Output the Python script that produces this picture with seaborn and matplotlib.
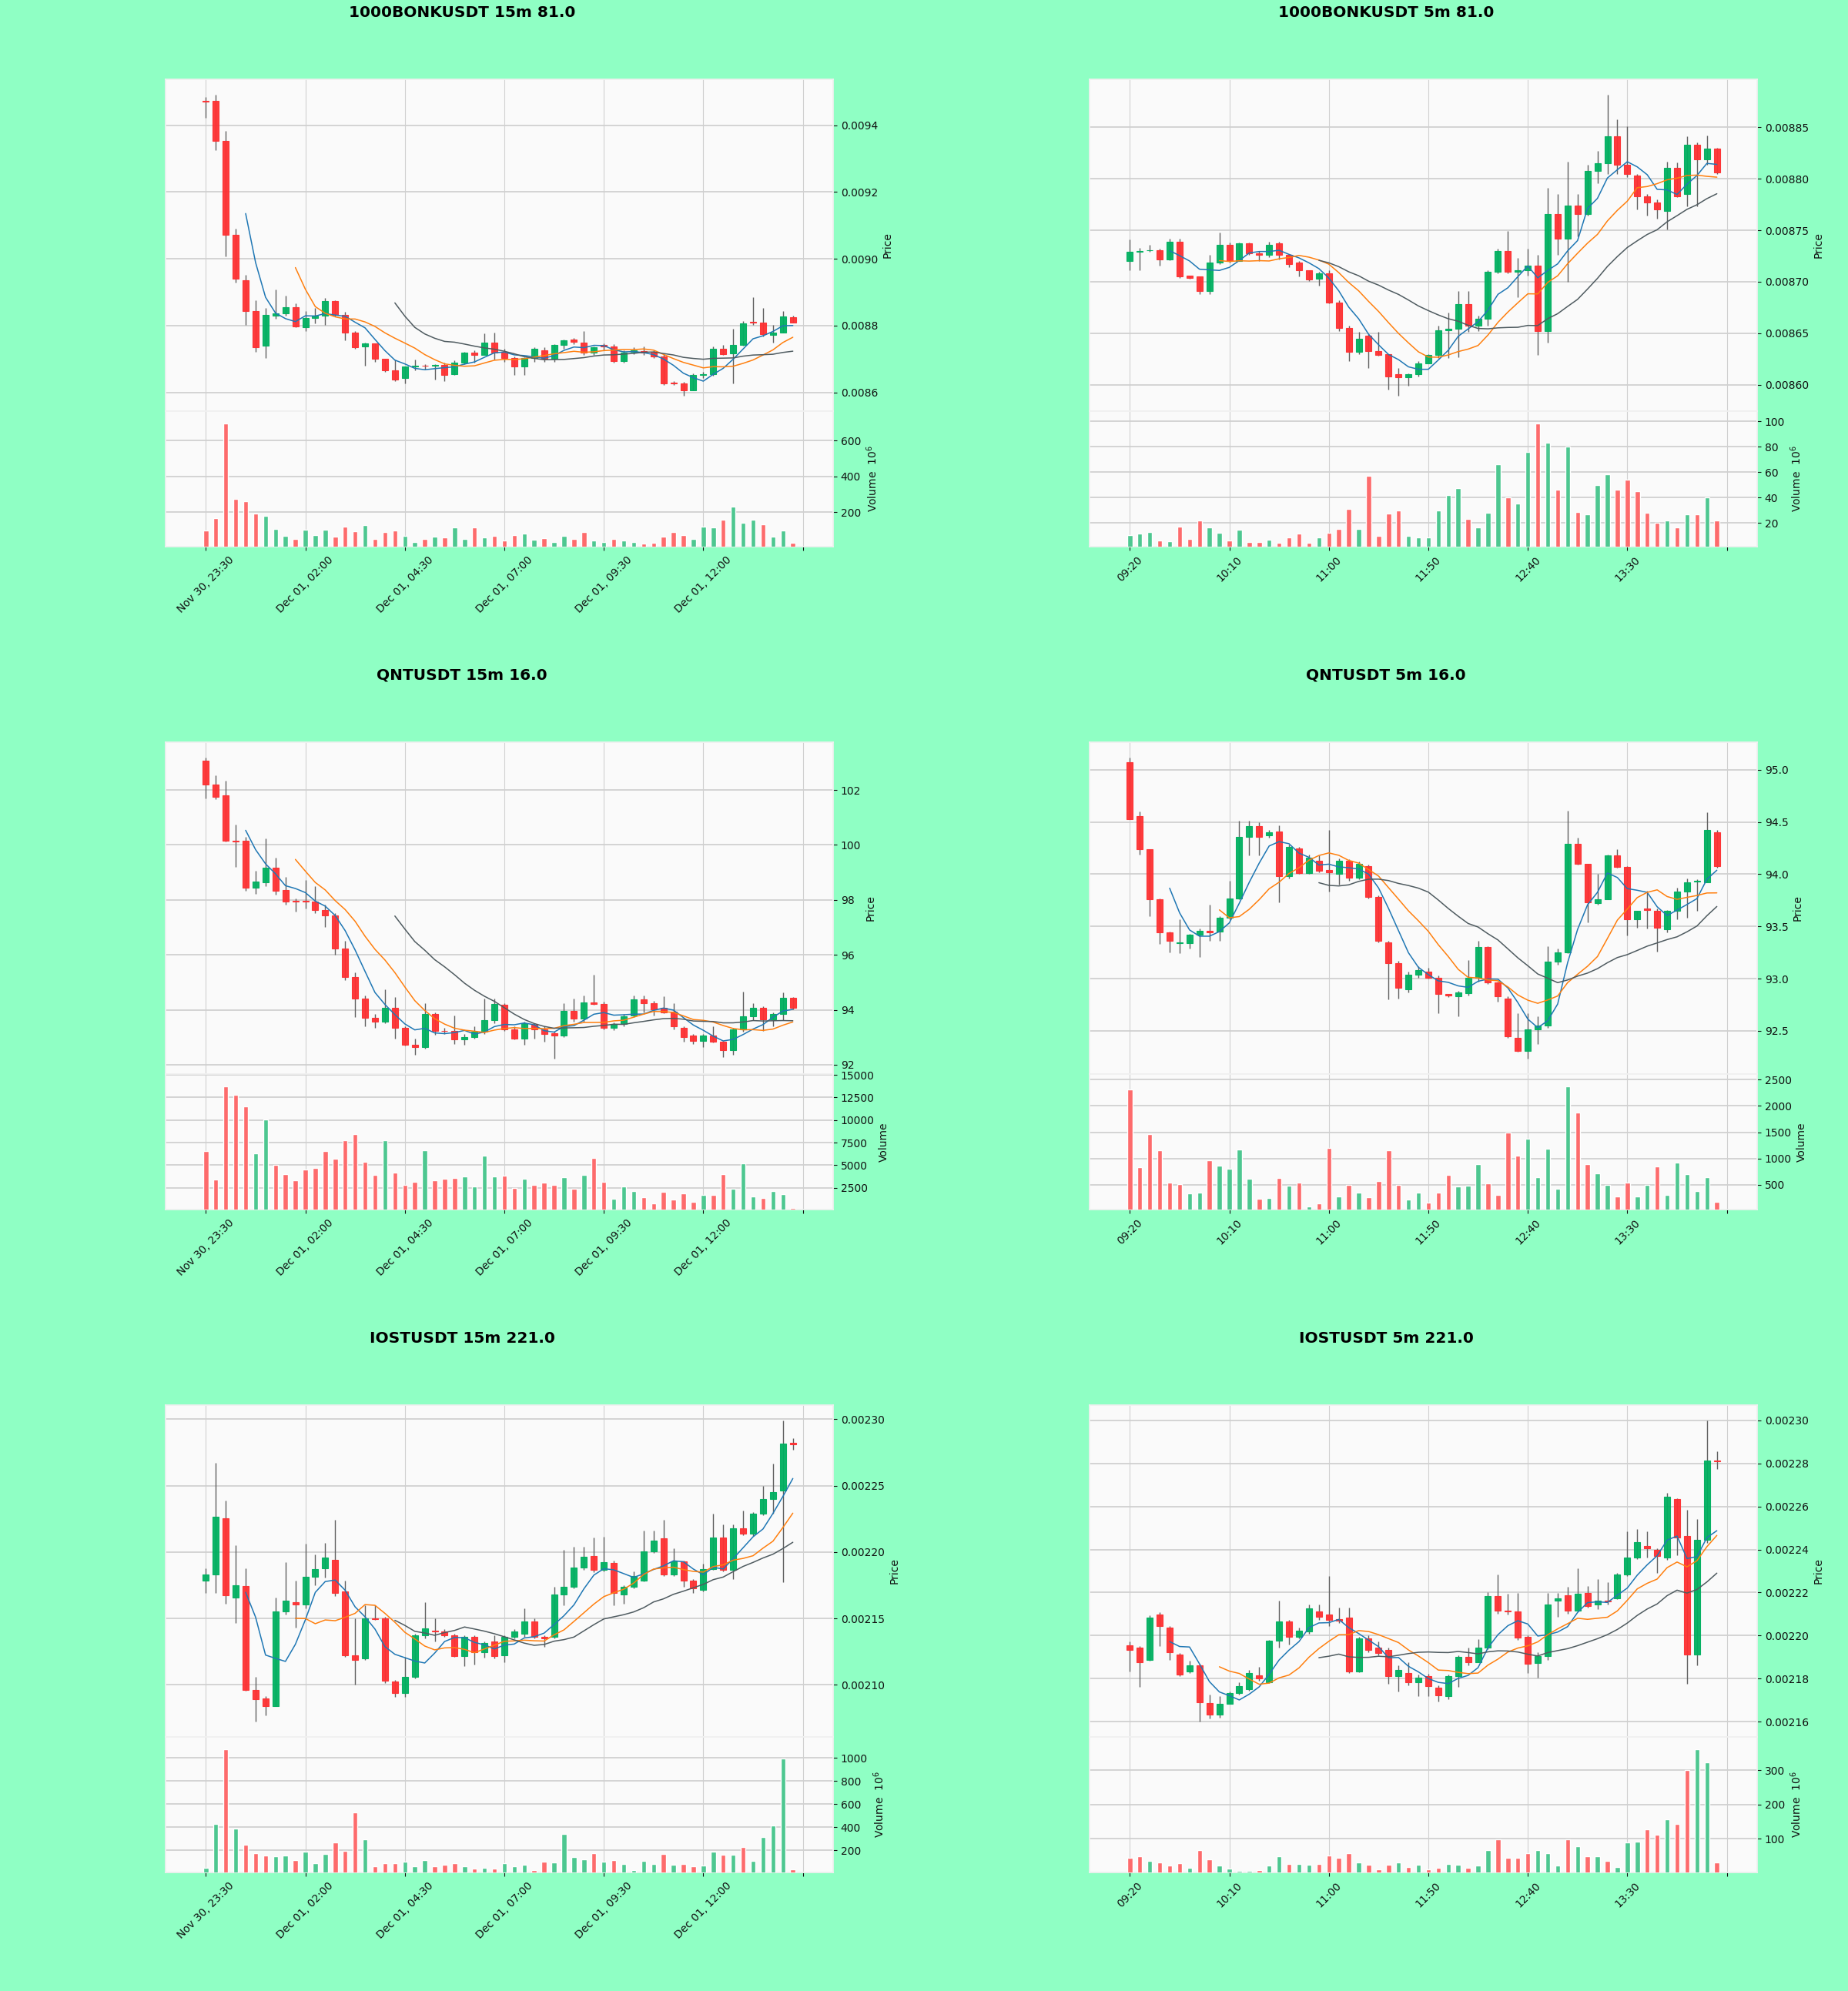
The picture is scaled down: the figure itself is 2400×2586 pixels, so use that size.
import numpy as np
import pandas as pd
import matplotlib
matplotlib.use("Agg")
import matplotlib.pyplot as plt
from matplotlib.ticker import MaxNLocator
import seaborn as sns

sns.set_theme(style="white")
plt.rcParams['font.family'] = ['DejaVu Sans']

# ---------------- data ----------------
labels_15m = ['Nov 30, 23:30', 'Dec 01, 02:00', 'Dec 01, 04:30',
              'Dec 01, 07:00', 'Dec 01, 09:30', 'Dec 01, 12:00']
labels_5m = ['09:20', '10:10', '11:00', '11:50', '12:40', '13:30']

# 1000BONKUSDT 15m
bonk15_open = [0.009473, 0.009473, 0.009352, 0.009072, 0.008936, 0.008843, 0.008739, 0.008830, 0.008836, 0.008856,
               0.008795, 0.008823, 0.008830, 0.008873, 0.008833, 0.008780, 0.008738, 0.008746, 0.008700, 0.008665,
               0.008643, 0.008677, 0.008680, 0.008679, 0.008682, 0.008655, 0.008690, 0.008720, 0.008713, 0.008750,
               0.008720, 0.008702, 0.008677, 0.008702, 0.008727, 0.008700, 0.008742, 0.008758, 0.008748, 0.008720,
               0.008742, 0.008738, 0.008693, 0.008722, 0.008724, 0.008720, 0.008707, 0.008630, 0.008626, 0.008607,
               0.008653, 0.008655, 0.008730, 0.008717, 0.008743, 0.008812, 0.008810, 0.008773, 0.008780, 0.008825]
bonk15_high = [0.009485, 0.009492, 0.009382, 0.009089, 0.008951, 0.008875, 0.008852, 0.008907, 0.008889, 0.008867,
               0.008844, 0.008852, 0.008882, 0.008876, 0.008840, 0.008783, 0.008749, 0.008747, 0.008701, 0.008699,
               0.008678, 0.008699, 0.008684, 0.008684, 0.008688, 0.008695, 0.008722, 0.008726, 0.008776, 0.008779,
               0.008730, 0.008707, 0.008705, 0.008734, 0.008734, 0.008745, 0.008758, 0.008762, 0.008783, 0.008738,
               0.008746, 0.008744, 0.008726, 0.008734, 0.008737, 0.008726, 0.008715, 0.008634, 0.008631, 0.008657,
               0.008661, 0.008737, 0.008741, 0.008791, 0.008814, 0.008886, 0.008852, 0.008802, 0.008844, 0.008830]
bonk15_low = [0.009421, 0.009325, 0.009008, 0.008928, 0.008802, 0.008722, 0.008703, 0.008821, 0.008829, 0.008795,
              0.008783, 0.008806, 0.008802, 0.008827, 0.008756, 0.008730, 0.008680, 0.008692, 0.008661, 0.008634,
              0.008627, 0.008665, 0.008669, 0.008638, 0.008634, 0.008652, 0.008685, 0.008688, 0.008711, 0.008699,
              0.008692, 0.008653, 0.008653, 0.008692, 0.008692, 0.008692, 0.008730, 0.008745, 0.008711, 0.008711,
              0.008726, 0.008688, 0.008688, 0.008715, 0.008711, 0.008703, 0.008623, 0.008623, 0.008589, 0.008606,
              0.008644, 0.008650, 0.008711, 0.008627, 0.008739, 0.008802, 0.008768, 0.008749, 0.008779, 0.008808]
bonk15_close = [0.009470, 0.009352, 0.009072, 0.008940, 0.008843, 0.008736, 0.008833, 0.008836, 0.008856, 0.008798,
                0.008823, 0.008830, 0.008873, 0.008833, 0.008780, 0.008734, 0.008746, 0.008700, 0.008665, 0.008638,
                0.008677, 0.008680, 0.008679, 0.008681, 0.008653, 0.008690, 0.008720, 0.008712, 0.008750, 0.008720,
                0.008702, 0.008677, 0.008702, 0.008730, 0.008700, 0.008742, 0.008755, 0.008752, 0.008720, 0.008735,
                0.008738, 0.008693, 0.008720, 0.008725, 0.008720, 0.008707, 0.008627, 0.008626, 0.008607, 0.008653,
                0.008655, 0.008730, 0.008715, 0.008743, 0.008806, 0.008808, 0.008775, 0.008780, 0.008828, 0.008810]
bonk15_volume = [98, 168, 695, 276, 263, 191, 178, 105, 66, 52,
                 101, 72, 104, 63, 119, 92, 126, 50, 87, 98,
                 69, 33, 52, 62, 59, 116, 50, 116, 59, 66,
                 40, 72, 81, 46, 53, 33, 66, 52, 87, 40,
                 31, 52, 40, 31, 24, 28, 62, 88, 72, 52,
                 119, 116, 156, 232, 142, 159, 133, 63, 98, 28]

# 1000BONKUSDT 5m
bonk5_open = [0.008720, 0.008729, 0.008731, 0.008731, 0.008722, 0.008739, 0.008706, 0.008705, 0.008691, 0.008719,
              0.008736, 0.008720, 0.008737, 0.008728, 0.008726, 0.008737, 0.008726, 0.008719, 0.008711, 0.008703,
              0.008708, 0.008680, 0.008655, 0.008632, 0.008648, 0.008633, 0.008630, 0.008610, 0.008607, 0.008610,
              0.008621, 0.008629, 0.008653, 0.008654, 0.008678, 0.008657, 0.008664, 0.008710, 0.008730, 0.008710,
              0.008711, 0.008716, 0.008652, 0.008766, 0.008742, 0.008774, 0.008766, 0.008808, 0.008815, 0.008841,
              0.008814, 0.008803, 0.008783, 0.008777, 0.008769, 0.008811, 0.008785, 0.008833, 0.008819, 0.008829]
bonk5_high = [0.008741, 0.008733, 0.008736, 0.008732, 0.008742, 0.008742, 0.008706, 0.008705, 0.008726, 0.008748,
              0.008738, 0.008738, 0.008738, 0.008730, 0.008739, 0.008739, 0.008727, 0.008720, 0.008711, 0.008710,
              0.008711, 0.008682, 0.008657, 0.008651, 0.008649, 0.008651, 0.008630, 0.008616, 0.008611, 0.008623,
              0.008630, 0.008657, 0.008670, 0.008691, 0.008691, 0.008667, 0.008711, 0.008732, 0.008749, 0.008723,
              0.008732, 0.008726, 0.008791, 0.008785, 0.008817, 0.008785, 0.008814, 0.008827, 0.008882, 0.008858,
              0.008851, 0.008805, 0.008785, 0.008780, 0.008817, 0.008816, 0.008841, 0.008835, 0.008842, 0.008830]
bonk5_low = [0.008711, 0.008711, 0.008729, 0.008716, 0.008721, 0.008704, 0.008703, 0.008688, 0.008688, 0.008717,
             0.008719, 0.008721, 0.008726, 0.008720, 0.008724, 0.008722, 0.008714, 0.008705, 0.008701, 0.008696,
             0.008679, 0.008652, 0.008623, 0.008630, 0.008616, 0.008628, 0.008595, 0.008589, 0.008599, 0.008608,
             0.008621, 0.008626, 0.008626, 0.008627, 0.008651, 0.008652, 0.008657, 0.008708, 0.008708, 0.008685,
             0.008706, 0.008629, 0.008641, 0.008726, 0.008700, 0.008744, 0.008764, 0.008796, 0.008805, 0.008805,
             0.008802, 0.008770, 0.008764, 0.008761, 0.008751, 0.008782, 0.008773, 0.008773, 0.008814, 0.008805]
bonk5_close = [0.008729, 0.008730, 0.008731, 0.008722, 0.008739, 0.008705, 0.008704, 0.008691, 0.008719, 0.008736,
               0.008720, 0.008737, 0.008728, 0.008726, 0.008736, 0.008726, 0.008717, 0.008711, 0.008702, 0.008708,
               0.008680, 0.008655, 0.008632, 0.008645, 0.008633, 0.008629, 0.008608, 0.008607, 0.008610, 0.008621,
               0.008629, 0.008653, 0.008654, 0.008678, 0.008657, 0.008664, 0.008710, 0.008730, 0.008710, 0.008711,
               0.008716, 0.008652, 0.008766, 0.008742, 0.008774, 0.008766, 0.008808, 0.008815, 0.008841, 0.008814,
               0.008805, 0.008783, 0.008777, 0.008770, 0.008811, 0.008783, 0.008833, 0.008819, 0.008829, 0.008806]
bonk5_volume = [10.4, 11.7, 12.9, 6.0, 5.5, 17.0, 7.5, 22.0, 16.6, 12.4,
                6.3, 14.6, 5.0, 5.0, 6.7, 4.3, 8.5, 11.7, 4.5, 8.5,
                12.0, 15.3, 31.3, 15.3, 57.0, 9.7, 27.6, 29.6, 9.7, 8.7,
                8.7, 30.0, 42.0, 47.7, 23.4, 16.6, 28.3, 66.0, 40.3, 35.0,
                76.0, 98.3, 83.3, 46.5, 80.4, 28.8, 27.0, 49.7, 58.3, 46.0,
                53.9, 44.8, 28.3, 20.2, 22.0, 16.6, 26.9, 26.9, 40.0, 22.2]

# QNTUSDT 15m
qnt15_open = [103.08, 102.19, 101.81, 100.15, 100.15, 98.45, 98.65, 99.17, 98.36, 97.98,
              97.97, 97.93, 97.62, 97.42, 96.24, 95.20, 94.41, 93.72, 93.57, 94.07,
              93.35, 92.72, 92.63, 93.85, 93.24, 93.22, 92.91, 93.02, 93.19, 93.61,
              94.19, 93.30, 92.96, 93.46, 93.28, 93.15, 93.05, 93.96, 93.69, 94.27,
              94.22, 93.35, 93.49, 93.80, 94.38, 94.24, 94.07, 93.94, 93.35, 93.05,
              92.87, 93.07, 92.84, 92.52, 93.30, 93.76, 94.07, 93.65, 93.86, 94.43]
qnt15_high = [103.19, 102.52, 102.33, 100.73, 100.28, 99.06, 100.23, 99.53, 98.84, 98.06,
              98.73, 98.51, 97.84, 97.51, 96.51, 95.35, 94.52, 93.85, 94.74, 94.46,
              93.41, 92.96, 94.24, 93.91, 93.35, 93.80, 93.13, 93.41, 94.41, 94.41,
              94.24, 93.41, 93.57, 93.52, 93.41, 93.21, 94.24, 94.41, 94.52, 95.29,
              94.29, 93.54, 93.85, 94.52, 94.52, 94.32, 94.49, 94.24, 93.41, 93.13,
              93.13, 93.41, 92.88, 93.35, 94.65, 94.24, 94.13, 93.91, 94.63, 94.46]
qnt15_low = [101.70, 101.67, 100.12, 99.21, 98.34, 98.23, 98.51, 98.18, 97.84, 97.57,
             97.68, 97.51, 97.01, 96.01, 95.07, 93.74, 93.39, 93.35, 93.52, 92.96,
             92.69, 92.35, 92.58, 93.08, 93.13, 92.74, 92.72, 92.96, 93.13, 93.52,
             93.24, 92.91, 92.72, 92.96, 92.83, 92.21, 93.02, 93.57, 93.57, 94.18,
             93.30, 93.27, 93.41, 93.74, 93.91, 93.80, 93.87, 93.30, 92.83, 92.74,
             92.63, 92.80, 92.27, 92.35, 93.19, 93.61, 93.24, 93.41, 93.63, 94.02]
qnt15_close = [102.19, 101.75, 100.15, 100.12, 98.45, 98.67, 99.17, 98.34, 97.95, 97.94,
               97.93, 97.62, 97.42, 96.24, 95.20, 94.41, 93.72, 93.57, 94.07, 93.35,
               92.72, 92.63, 93.85, 93.24, 93.22, 92.91, 93.02, 93.19, 93.61, 94.21,
               93.30, 92.96, 93.52, 93.28, 93.13, 93.05, 93.96, 93.69, 94.27, 94.22,
               93.35, 93.49, 93.76, 94.38, 94.24, 94.02, 93.91, 93.39, 93.02, 92.88,
               93.07, 92.84, 92.52, 93.30, 93.76, 94.07, 93.65, 93.86, 94.43, 94.07]
qnt15_volume = [6560, 3400, 13730, 12770, 11490, 6320, 10080, 5050, 3980, 3290,
                4500, 4670, 6560, 5700, 7770, 8460, 5360, 3880, 7770, 4150,
                2850, 3190, 6670, 3290, 3530, 3570, 3710, 2670, 6050, 3710,
                3840, 2500, 3500, 2850, 3050, 2850, 3640, 2360, 3910, 5770,
                3190, 1300, 2670, 2120, 1430, 780, 2020, 1230, 1910, 950,
                1740, 1740, 3980, 2360, 5190, 1570, 1330, 2160, 1810, 260]

# QNTUSDT 5m
qnt5_open = [95.07, 94.56, 94.24, 93.76, 93.44, 93.34, 93.34, 93.42, 93.46, 93.45,
             93.58, 93.77, 94.36, 94.46, 94.37, 94.41, 93.98, 94.25, 94.01, 94.13,
             94.04, 94.00, 94.13, 93.97, 94.08, 93.78, 93.35, 93.15, 92.90, 93.04,
             93.07, 93.01, 92.85, 92.83, 92.86, 93.01, 93.30, 92.96, 92.81, 92.43,
             92.31, 92.51, 92.55, 93.16, 93.25, 94.29, 94.10, 93.72, 93.76, 94.18,
             94.07, 93.57, 93.67, 93.65, 93.47, 93.65, 93.83, 93.93, 93.92, 94.40]
qnt5_high = [95.12, 94.60, 94.24, 93.77, 93.45, 93.57, 93.43, 93.48, 93.71, 93.60,
             93.94, 94.51, 94.51, 94.50, 94.42, 94.47, 94.28, 94.26, 94.19, 94.18,
             94.42, 94.15, 94.14, 94.12, 94.09, 93.80, 93.36, 93.17, 93.07, 93.12,
             93.10, 93.03, 92.85, 92.88, 93.18, 93.36, 93.31, 92.97, 92.83, 92.67,
             92.67, 92.64, 93.31, 93.29, 94.61, 94.35, 94.10, 94.00, 94.19, 94.24,
             94.08, 93.65, 93.84, 93.67, 93.66, 93.87, 93.96, 93.95, 94.59, 94.42]
qnt5_low = [94.53, 94.19, 93.60, 93.33, 93.25, 93.24, 93.29, 93.21, 93.36, 93.36,
            93.57, 93.76, 94.18, 94.18, 94.35, 93.73, 93.96, 94.00, 94.00, 94.02,
            93.83, 93.90, 93.94, 93.95, 93.77, 93.35, 92.80, 92.81, 92.87, 93.01,
            93.00, 92.67, 92.82, 92.64, 92.84, 92.97, 92.95, 92.78, 92.43, 92.30,
            92.23, 92.37, 92.53, 93.13, 93.24, 94.09, 93.54, 93.71, 93.76, 94.06,
            93.41, 93.49, 93.48, 93.26, 93.44, 93.57, 93.58, 93.65, 93.92, 94.06]
qnt5_close = [94.53, 94.24, 93.76, 93.44, 93.36, 93.35, 93.42, 93.46, 93.44, 93.58,
              93.77, 94.36, 94.46, 94.36, 94.40, 93.98, 94.26, 94.01, 94.16, 94.03,
              94.02, 94.13, 93.97, 94.10, 93.78, 93.36, 93.15, 92.91, 93.04, 93.08,
              93.01, 92.85, 92.84, 92.87, 93.01, 93.30, 92.96, 92.83, 92.45, 92.31,
              92.51, 92.55, 93.16, 93.25, 94.29, 94.10, 93.73, 93.76, 94.18, 94.07,
              93.57, 93.65, 93.66, 93.49, 93.65, 93.83, 93.92, 93.94, 94.42, 94.08]
qnt5_volume = [2320, 830, 1460, 1150, 540, 510, 330, 345, 970, 860,
               800, 1170, 610, 230, 240, 625, 475, 535, 90, 140,
               1200, 280, 495, 355, 255, 575, 1160, 495, 220, 345,
               160, 355, 685, 460, 475, 895, 525, 300, 1500, 1060,
               1380, 645, 1180, 430, 2370, 1875, 895, 715, 495, 270,
               535, 270, 495, 850, 300, 925, 700, 385, 645, 180]

# IOSTUSDT 15m
iost15_open = [0.0021786, 0.0021832, 0.0022253, 0.0021660, 0.0021745, 0.0020963, 0.0020901, 0.0020839, 0.0021552, 0.0021621,
               0.0021607, 0.0021814, 0.0021878, 0.0021943, 0.0021706, 0.0021223, 0.0021200, 0.0021499, 0.0021499, 0.0021028,
               0.0020938, 0.0021062, 0.0021372, 0.0021408, 0.0021400, 0.0021372, 0.0021216, 0.0021361, 0.0021246, 0.0021326,
               0.0021223, 0.0021361, 0.0021384, 0.0021476, 0.0021361, 0.0021361, 0.0021683, 0.0021736, 0.0021883, 0.0021970,
               0.0021867, 0.0021917, 0.0021683, 0.0021740, 0.0021786, 0.0022005, 0.0022103, 0.0021832, 0.0021929, 0.0021786,
               0.0021717, 0.0021874, 0.0022108, 0.0021867, 0.0022177, 0.0022136, 0.0022287, 0.0022402, 0.0022464, 0.0022820]
iost15_high = [0.0021878, 0.0022671, 0.0022388, 0.0022051, 0.0021878, 0.0021062, 0.0020913, 0.0021660, 0.0021924, 0.0021786,
               0.0022062, 0.0021982, 0.0022067, 0.0022241, 0.0021786, 0.0021499, 0.0021602, 0.0021602, 0.0021510, 0.0021039,
               0.0021211, 0.0021384, 0.0021625, 0.0021499, 0.0021418, 0.0021384, 0.0021372, 0.0021372, 0.0021326, 0.0021372,
               0.0021372, 0.0021418, 0.0021579, 0.0021499, 0.0021372, 0.0021740, 0.0022016, 0.0022039, 0.0022039, 0.0022108,
               0.0022113, 0.0021936, 0.0021752, 0.0021855, 0.0022159, 0.0022159, 0.0022241, 0.0022028, 0.0021936, 0.0021798,
               0.0021913, 0.0022287, 0.0022211, 0.0022211, 0.0022315, 0.0022303, 0.0022499, 0.0022664, 0.0022993, 0.0022855]
iost15_low = [0.0021694, 0.0021694, 0.0021614, 0.0021469, 0.0020954, 0.0020722, 0.0020770, 0.0020839, 0.0021529, 0.0021430,
              0.0021579, 0.0021752, 0.0021809, 0.0021667, 0.0021211, 0.0021000, 0.0021188, 0.0021487, 0.0021016, 0.0020908,
              0.0020908, 0.0021050, 0.0021349, 0.0021326, 0.0021361, 0.0021211, 0.0021142, 0.0021154, 0.0021207, 0.0021200,
              0.0021170, 0.0021349, 0.0021361, 0.0021349, 0.0021285, 0.0021349, 0.0021602, 0.0021729, 0.0021867, 0.0021851,
              0.0021855, 0.0021602, 0.0021614, 0.0021729, 0.0021782, 0.0021993, 0.0021821, 0.0021821, 0.0021740, 0.0021694,
              0.0021706, 0.0021867, 0.0021855, 0.0021798, 0.0022126, 0.0022120, 0.0022280, 0.0022292, 0.0021775, 0.0022770]
iost15_close = [0.0021832, 0.0022264, 0.0021676, 0.0021752, 0.0020963, 0.0020894, 0.0020839, 0.0021552, 0.0021637, 0.0021607,
                0.0021814, 0.0021874, 0.0021959, 0.0021694, 0.0021223, 0.0021189, 0.0021499, 0.0021497, 0.0021032, 0.0020936,
                0.0021062, 0.0021372, 0.0021423, 0.0021405, 0.0021372, 0.0021216, 0.0021361, 0.0021246, 0.0021315, 0.0021216,
                0.0021361, 0.0021400, 0.0021476, 0.0021361, 0.0021351, 0.0021683, 0.0021736, 0.0021883, 0.0021965, 0.0021867,
                0.0021924, 0.0021694, 0.0021740, 0.0021821, 0.0022005, 0.0022085, 0.0021832, 0.0021929, 0.0021786, 0.0021729,
                0.0021874, 0.0022108, 0.0021867, 0.0022177, 0.0022136, 0.0022287, 0.0022402, 0.0022453, 0.0022816, 0.0022812]
iost15_volume = [45, 427, 1075, 387, 245, 173, 152, 146, 152, 112,
                 187, 85, 165, 267, 192, 526, 294, 58, 90, 85,
                 98, 63, 117, 58, 72, 85, 58, 39, 45, 39,
                 85, 58, 72, 31, 98, 93, 339, 138, 120, 173,
                 98, 112, 79, 26, 106, 79, 165, 72, 79, 58,
                 66, 187, 160, 160, 227, 106, 312, 414, 994, 34]

# IOSTUSDT 5m
iost5_open = [0.0021955, 0.0021945, 0.0021886, 0.0022098, 0.0022037, 0.0021914, 0.0021833, 0.0021864, 0.0021689, 0.0021632,
              0.0021685, 0.0021734, 0.0021751, 0.0021816, 0.0021783, 0.0021977, 0.0022065, 0.0021995, 0.0022019, 0.0022112,
              0.0022098, 0.0022076, 0.0022084, 0.0021835, 0.0021988, 0.0021945, 0.0021934, 0.0021812, 0.0021826, 0.0021783,
              0.0021812, 0.0021760, 0.0021718, 0.0021812, 0.0021903, 0.0021875, 0.0021945, 0.0022185, 0.0022115, 0.0022112,
              0.0021995, 0.0021872, 0.0021906, 0.0022164, 0.0022188, 0.0022115, 0.0022199, 0.0022146, 0.0022164, 0.0022174,
              0.0022284, 0.0022361, 0.0022415, 0.0022400, 0.0022361, 0.0022633, 0.0022464, 0.0021914, 0.0022446, 0.0022812]
iost5_high = [0.0021974, 0.0021953, 0.0022094, 0.0022108, 0.0022044, 0.0021920, 0.0021882, 0.0021868, 0.0021727, 0.0021720,
              0.0021741, 0.0021783, 0.0021840, 0.0021854, 0.0021981, 0.0022164, 0.0022072, 0.0022037, 0.0022143, 0.0022143,
              0.0022277, 0.0022129, 0.0022129, 0.0021995, 0.0022002, 0.0021974, 0.0021945, 0.0021861, 0.0021875, 0.0021819,
              0.0021822, 0.0021769, 0.0021819, 0.0021910, 0.0021943, 0.0021985, 0.0022202, 0.0022284, 0.0022196, 0.0022199,
              0.0022002, 0.0021924, 0.0022199, 0.0022199, 0.0022227, 0.0022312, 0.0022230, 0.0022263, 0.0022249, 0.0022291,
              0.0022484, 0.0022495, 0.0022484, 0.0022404, 0.0022662, 0.0022639, 0.0022583, 0.0022541, 0.0023000, 0.0022855]
iost5_low = [0.0021833, 0.0021762, 0.0021882, 0.0021953, 0.0021889, 0.0021812, 0.0021826, 0.0021600, 0.0021614, 0.0021621,
             0.0021685, 0.0021727, 0.0021745, 0.0021790, 0.0021779, 0.0021945, 0.0021960, 0.0021988, 0.0022009, 0.0022072,
             0.0022044, 0.0022058, 0.0021826, 0.0021830, 0.0021924, 0.0021910, 0.0021776, 0.0021741, 0.0021769, 0.0021720,
             0.0021720, 0.0021695, 0.0021706, 0.0021762, 0.0021861, 0.0021889, 0.0021938, 0.0022103, 0.0022098, 0.0021981,
             0.0021826, 0.0021804, 0.0021889, 0.0022086, 0.0022100, 0.0022115, 0.0022129, 0.0022122, 0.0022143, 0.0022171,
             0.0022277, 0.0022354, 0.0022361, 0.0022291, 0.0022352, 0.0022375, 0.0021776, 0.0021864, 0.0022432, 0.0022774]
iost5_close = [0.0021935, 0.0021875, 0.0022084, 0.0022044, 0.0021924, 0.0021821, 0.0021864, 0.0021692, 0.0021632, 0.0021685,
               0.0021734, 0.0021765, 0.0021826, 0.0021802, 0.0021977, 0.0022065, 0.0021995, 0.0022023, 0.0022126, 0.0022086,
               0.0022072, 0.0022070, 0.0021833, 0.0021988, 0.0021934, 0.0021920, 0.0021812, 0.0021840, 0.0021783, 0.0021805,
               0.0021765, 0.0021723, 0.0021812, 0.0021903, 0.0021875, 0.0021945, 0.0022185, 0.0022115, 0.0022112, 0.0021990,
               0.0021868, 0.0021906, 0.0022146, 0.0022174, 0.0022115, 0.0022196, 0.0022136, 0.0022164, 0.0022160, 0.0022284,
               0.0022361, 0.0022435, 0.0022404, 0.0022371, 0.0022646, 0.0022456, 0.0021914, 0.0022446, 0.0022812, 0.0022808]
iost5_volume = [45, 50, 36, 32, 21, 29, 15, 66, 41, 21,
                14, 7, 6, 9, 23, 50, 27, 27, 25, 27,
                52, 45, 59, 32, 25, 11, 25, 30, 18, 25,
                11, 15, 27, 25, 15, 23, 68, 98, 45, 44,
                57, 68, 57, 23, 98, 79, 50, 50, 35, 18,
                89, 91, 127, 112, 156, 143, 300, 361, 323, 30]

titles = ['1000BONKUSDT 15m 81.0', '1000BONKUSDT 5m 81.0',
          'QNTUSDT 15m 16.0', 'QNTUSDT 5m 16.0',
          'IOSTUSDT 15m 221.0', 'IOSTUSDT 5m 221.0']
mav_periods = [5, 10, 20]

# ---------------- style (mplfinance "yahoo"-like) ----------------
BG = '#8fffc4'
FACE = '#fafafa'
GRID = '#d0d0d0'
UP, DOWN = '#00b060', '#fe3032'
VUP, VDOWN = '#4dc790', '#fd6b6c'
WICK = '#606060'
MAV_COLORS = ['#1f77b4', '#ff7f0e', '#4f5b60']

W, H = 2400, 2586
col_left = [215, 1415]
row_top = [103, 964, 1825]
ax_w, price_h, vol_h = 867, 431, 176

fig = plt.figure(figsize=(W / 100, H / 100), dpi=100, facecolor=BG)


def style_axis(ax):
    ax.set_facecolor(FACE)
    ax.set_axisbelow(True)
    ax.grid(True, axis='y', color=GRID, lw=1.3)
    ax.grid(True, axis='x', color=GRID, lw=0.8)
    for s in ax.spines.values():
        s.set_color('#f0f0f0')
    ax.yaxis.tick_right()
    ax.yaxis.set_label_position('right')
    ax.tick_params(axis='both', which='both', length=3.5, width=0.8, color='#101010',
                   labelcolor='#101010', labelsize=10, left=False, right=True, bottom=True)


def draw_panel(pos, title, o, h, l, c, v, ticklabels, vol_label):
    o, h, l, c, v = (np.asarray(a, dtype=float) for a in (o, h, l, c, v))
    h = np.maximum(h, np.maximum(o, c))
    l = np.minimum(l, np.minimum(o, c))
    x = np.arange(len(c))
    col, row = pos
    left, top = col_left[col], row_top[row]

    ax_p = fig.add_axes([left / W, 1 - (top + price_h) / H, ax_w / W, price_h / H])
    ax_v = fig.add_axes([left / W, 1 - (top + price_h + vol_h) / H, ax_w / W, vol_h / H],
                        sharex=ax_p)
    style_axis(ax_p)
    style_axis(ax_v)

    # candles
    up = c >= o
    body_col = np.where(up, UP, DOWN)
    ax_p.vlines(x, l, h, color=WICK, lw=1.0, zorder=2)
    ax_p.bar(x, np.abs(c - o), bottom=np.minimum(o, c), width=0.62,
             color=body_col, edgecolor=body_col, linewidth=0.8, alpha=0.95, zorder=3)

    # moving averages
    closes = pd.Series(c)
    for n, mc in zip(mav_periods, MAV_COLORS):
        ma = closes.rolling(n).mean()
        sns.lineplot(x=x, y=ma.values, ax=ax_p, color=mc, lw=1.1, legend=False, zorder=4)

    pad = 0.05 * (h.max() - l.min())
    ax_p.set_ylim(l.min() - pad, h.max() + pad)
    ax_p.set_ylabel('Price', fontsize=10, color='#101010')
    ax_p.tick_params(labelbottom=False)

    # volume, coloured by close-to-close change
    prev = np.concatenate([[o[0]], c[:-1]])
    vcol = np.where(c >= prev, VUP, VDOWN)
    ax_v.bar(x, v, width=0.5, color=vcol, zorder=3)
    ax_v.set_ylim(0.3 * v.min(), 1.1 * v.max())
    ax_v.yaxis.set_major_locator(MaxNLocator(nbins=7, steps=[1, 2, 2.5, 5, 10]))
    ax_v.set_ylabel(vol_label, fontsize=10, color='#101010')

    ax_v.set_xlim(-4.05, 63.05)
    ax_v.set_xticks(range(0, 61, 10))
    ax_v.set_xticklabels(ticklabels + [''], rotation=45, ha='center')

    fig.text(0.25 + 0.5 * col, 1 - (top - 87) / H, title, ha='center', va='center',
             fontsize=14.5, fontweight='bold', color='black')


draw_panel((0, 0), titles[0], bonk15_open, bonk15_high, bonk15_low, bonk15_close,
           bonk15_volume, labels_15m, 'Volume  $10^{6}$')
draw_panel((1, 0), titles[1], bonk5_open, bonk5_high, bonk5_low, bonk5_close,
           bonk5_volume, labels_5m, 'Volume  $10^{6}$')
draw_panel((0, 1), titles[2], qnt15_open, qnt15_high, qnt15_low, qnt15_close,
           qnt15_volume, labels_15m, 'Volume')
draw_panel((1, 1), titles[3], qnt5_open, qnt5_high, qnt5_low, qnt5_close,
           qnt5_volume, labels_5m, 'Volume')
draw_panel((0, 2), titles[4], iost15_open, iost15_high, iost15_low, iost15_close,
           iost15_volume, labels_15m, 'Volume  $10^{6}$')
draw_panel((1, 2), titles[5], iost5_open, iost5_high, iost5_low, iost5_close,
           iost5_volume, labels_5m, 'Volume  $10^{6}$')

fig.savefig('out.png', dpi=100, facecolor=fig.get_facecolor())
